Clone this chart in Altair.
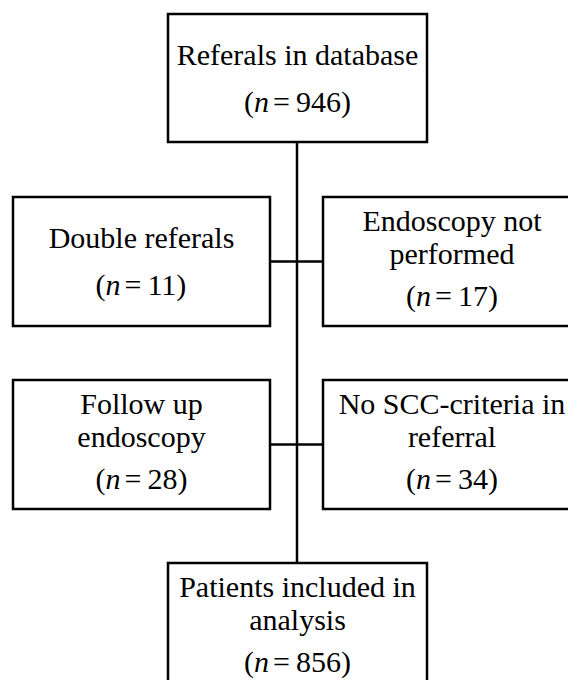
import altair as alt
import pandas as pd

# ---- content ----
box_lines = [
    ["Referals in database"],
    ["Double referals"],
    ["Endoscopy not", "performed"],
    ["Follow up", "endoscopy"],
    ["No SCC-criteria in", "referral"],
    ["Patients included in", "analysis"],
]
box_n = [946, 11, 17, 28, 34, 856]

# ---- layout (page pixel coordinates) ----
box_x0 = [168, 13, 323, 13, 323, 168]
box_x1 = [427, 270, 581, 270, 581, 427]
box_y0 = [14, 197, 197, 380, 380, 563]
box_y1 = [142, 326, 326, 509, 509, 700]

trunk_x = 297
branch_y = [261.5, 444.5]

FS = 30
FONT = "Liberation Serif"
W, H = 560, 672
GAP = 4

THIN = "\u2009"
rows_text, rows_n = [], []
for i, lines in enumerate(box_lines):
    cx = (box_x0[i] + box_x1[i]) / 2
    if i in (2, 4):
        cx = 452
    top = box_y0[i]
    if len(lines) == 1:
        base = [top + 51]
        nbase = top + 98
    else:
        base = [top + 34, top + 67]
        nbase = top + 109
    for t, b in zip(lines, base):
        rows_text.append({"x": cx, "y": b, "t": t})
    digits = len(str(box_n[i]))
    w_left = (0.333 + 0.5) * FS
    w_right = (0.564 + 0.2 + 0.5 * digits + 0.333) * FS + GAP
    anchor = cx + (w_left - w_right) / 2
    rows_n.append({"x": anchor, "y": nbase,
                   "p": "(", "n": "n",
                   "r": f"={THIN}{box_n[i]})",
                   "xp": anchor - 0.5 * FS,
                   "xr": anchor + GAP})

boxes = pd.DataFrame({"x0": box_x0, "x1": box_x1, "y0": box_y0, "y1": box_y1})
lines_df = pd.DataFrame(
    [{"x": trunk_x, "x2": trunk_x, "y": box_y1[0], "y2": box_y0[5]}]
    + [{"x": box_x1[1], "x2": box_x0[2], "y": by, "y2": by} for by in branch_y]
)
text_df = pd.DataFrame(rows_text)
n_df = pd.DataFrame(rows_n)

xs = alt.Scale(domain=[8, 8 + W], nice=False, zero=False)
ys = alt.Scale(domain=[8, 8 + H], nice=False, zero=False, reverse=True)
X = lambda f: alt.X(f, type="quantitative", scale=xs, axis=None)
Y = lambda f: alt.Y(f, type="quantitative", scale=ys, axis=None)

rules = alt.Chart(lines_df).mark_rule(color="black", strokeWidth=2.5).encode(
    x=X("x"), x2="x2", y=Y("y"), y2="y2")

rects = alt.Chart(boxes).mark_rect(fill="white", stroke="black", strokeWidth=2.5).encode(
    x=X("x0"), x2="x1", y=Y("y0"), y2="y1")

txt_style = dict(font=FONT, fontSize=FS, color="black", baseline="alphabetic")
texts = alt.Chart(text_df).mark_text(align="center", **txt_style).encode(
    x=X("x"), y=Y("y"), text="t:N")

paren = alt.Chart(n_df).mark_text(align="right", **txt_style).encode(
    x=X("xp"), y=Y("y"), text="p:N")
nital = alt.Chart(n_df).mark_text(align="right", fontStyle="italic", **txt_style).encode(
    x=X("x"), y=Y("y"), text="n:N")
rest = alt.Chart(n_df).mark_text(align="left", **txt_style).encode(
    x=X("xr"), y=Y("y"), text="r:N")

chart = alt.layer(rules, rects, texts, paren, nital, rest).properties(
    width=W, height=H, padding=0,
    autosize=alt.AutoSizeParams(type="none"),
).configure(background="white").configure_view(strokeWidth=0, strokeOpacity=0)

chart.save("out.html", embed_options={"renderer": "svg", "actions": False})
